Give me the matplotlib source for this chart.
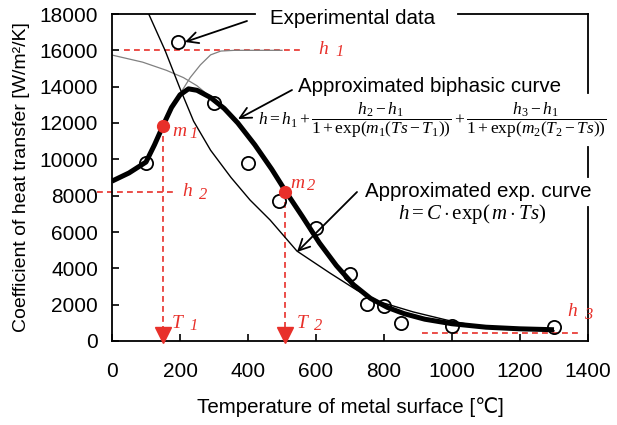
import matplotlib
matplotlib.use("Agg")
import matplotlib.pyplot as plt
from matplotlib.lines import Line2D

# ---------------- data ----------------
exp_T = [100, 195, 300, 400, 490, 600, 700, 750, 800, 850, 1000, 1300]
exp_h = [9800, 16450, 13100, 9800, 7700, 6200, 3700, 2050, 1950, 1000, 800, 750]

bi_T = [0, 50, 100, 125, 150, 175, 200, 225, 250, 290, 330, 370, 420, 470, 512,
        560, 610, 660, 710, 760, 810, 860, 920, 1000, 1100, 1200, 1300]
bi_h = [8800, 9250, 9850, 10800, 11850, 12850, 13550, 13880, 13800, 13400, 12800,
        12000, 10800, 9450, 8200, 6850, 5400, 4150, 3100, 2350, 1850, 1500, 1200,
        950, 760, 670, 620]

expc_T = [108, 156, 200, 240, 290, 350, 406, 465, 544, 641, 720, 788, 886, 985,
          1082, 1200, 1300]
expc_h = [18000, 16000, 13900, 12100, 10500, 9000, 7760, 6660, 4950, 3740, 2800,
          2150, 1600, 1150, 790, 620, 560]

comp2_T = [0, 90, 160, 210, 250, 285]
comp2_h = [15740, 15350, 14900, 14500, 14050, 13500]

comp1_T = [200, 230, 260, 290, 320, 360, 500]
comp1_h = [13600, 14500, 15200, 15750, 15960, 16000, 16000]

h1, h2, h3 = 16000, 8200, 450
T1, T2 = 150, 510
m1_h, m2_h = 11850, 8200

xticks = [0, 200, 400, 600, 800, 1000, 1200, 1400]
yticks = [0, 2000, 4000, 6000, 8000, 10000, 12000, 14000, 16000, 18000]

# ---------------- figure ----------------
plt.rcParams["mathtext.fontset"] = "custom"
plt.rcParams["mathtext.rm"] = "Liberation Serif"
plt.rcParams["mathtext.it"] = "Liberation Serif:italic"
plt.rcParams["mathtext.bf"] = "Liberation Serif:bold"

W, H = 617, 425
fig = plt.figure(figsize=(W / 100, H / 100), dpi=100)
ax = fig.add_axes([112 / W, 1 - 341 / H, 476 / W, 327 / H])

def P(x, y):
    return (x / W, 1 - y / H)

RED = "#e8302a"
SANS = ["Liberation Sans", "DejaVu Sans"]

ax.set_xlim(0, 1400)
ax.set_ylim(0, 18000)

# curves
ax.plot(comp2_T, comp2_h, color="#808080", lw=0.9, zorder=2)
ax.plot(comp1_T, comp1_h, color="#808080", lw=0.9, zorder=2)
ax.plot(expc_T, expc_h, color="black", lw=1.0, zorder=3)
ax.plot(bi_T, bi_h, color="black", lw=3.6, zorder=4, solid_capstyle="butt",
        solid_joinstyle="round")
ax.plot(exp_T, exp_h, "o", ms=9.5, mfc="none", mec="black", mew=1.3, zorder=5)

# red guide lines
dash = (0, (3.5, 2.5))
ax.plot([35, 555], [h1, h1], color=RED, lw=1.2, ls=dash, zorder=1)
ax.plot([-45, 190], [h2, h2], color=RED, lw=1.2, ls=dash, zorder=1, clip_on=False)
ax.plot([912, 1370], [h3, h3], color=RED, lw=1.2, ls=dash, zorder=1)
for T, hv in [(T1, m1_h), (T2, m2_h)]:
    ax.plot([T, T], [hv, 450], color=RED, lw=1.2, ls=dash, zorder=1)
    ax.plot([T], [330], marker="v", ms=11, color=RED, mec=RED, zorder=6, clip_on=False)
ax.plot([T1, T2], [m1_h, m2_h], "o", ls="none", color=RED, ms=8.5, zorder=7)

# red labels
def sublabel(x, y, main, sub, size=14):
    fig.text(*P(x, y), main, color=RED, fontsize=size, family="Liberation Serif",
             style="italic", ha="left", va="center")
    fig.text(*P(x + 17, y + 3), sub, color=RED, fontsize=size * 0.85,
             family="Liberation Serif", style="italic", ha="left", va="center")

sublabel(318, 49, "h", "1")
sublabel(182, 192, "h", "2")
sublabel(172, 131, "m", "1")
sublabel(290, 183, "m", "2")
sublabel(172, 323, "T", "1")
sublabel(297, 323, "T", "2")
sublabel(567, 312, "h", "3")

# axes styling
for s in ["top", "right"]:
    ax.spines[s].set_visible(False)
for s in ["left", "bottom"]:
    ax.spines[s].set_linewidth(1.3)
spine_kw = dict(color="black", lw=1.3, transform=ax.transAxes, clip_on=False, zorder=0)
ax.add_line(Line2D([0, 0.30], [1, 1], **spine_kw))
ax.add_line(Line2D([0.727, 1.0], [1, 1], **spine_kw))
ax.add_line(Line2D([1, 1], [1, 0.758], **spine_kw))
ax.add_line(Line2D([1, 1], [0.593, 0.502], **spine_kw))
ax.add_line(Line2D([1, 1], [0.41, 0], **spine_kw))

ax.set_xticks(xticks)
ax.set_yticks(yticks)
ax.set_xticklabels([str(v) for v in xticks], family=SANS, fontsize=15)
ax.set_yticklabels([str(v) for v in yticks], family=SANS, fontsize=15)
ax.tick_params(direction="in", length=5, width=1.2)
ax.tick_params(axis="y", pad=10)
ax.tick_params(axis="x", pad=15)

ax.set_xlabel("Temperature of metal surface [\u2103]", family=SANS, fontsize=14.8,
              labelpad=12)
ax.set_ylabel("Coefficient of heat transfer [W/m\u00b2/K]", family=SANS, fontsize=14,
              labelpad=7)

# annotations
fig.text(*P(270, 18), "Experimental data", family=SANS, fontsize=14.8, ha="left",
         va="center")
fig.text(*P(298, 87), "Approximated biphasic curve", family=SANS, fontsize=14.8,
         ha="left", va="center")
fig.text(*P(258, 120),
         r"$h = h_1 + \dfrac{h_2 - h_1}{1 + \exp(m_1(Ts - T_1))}"
         r" + \dfrac{h_3 - h_1}{1 + \exp(m_2(T_2 - Ts))}$",
         fontsize=12.5, ha="left", va="center")
fig.text(*P(365, 191), "Approximated exp. curve", family=SANS, fontsize=14.8,
         ha="left", va="center")
fig.text(*P(472, 214), r"$h = C \cdot \exp(\,m \cdot Ts)$", fontsize=15,
         ha="center", va="center")

arrow = dict(arrowstyle="->", lw=1.3, color="black", shrinkA=0, shrinkB=0,
             mutation_scale=20)
for tip, tail in [((185, 42), (247, 21)), ((238, 119), (292, 90)),
                  ((297, 252), (357, 192))]:
    ax.annotate("", xy=P(*tip), xycoords="figure fraction", xytext=P(*tail),
                textcoords="figure fraction", arrowprops=arrow, zorder=8)

fig.savefig("out.png", dpi=100)
